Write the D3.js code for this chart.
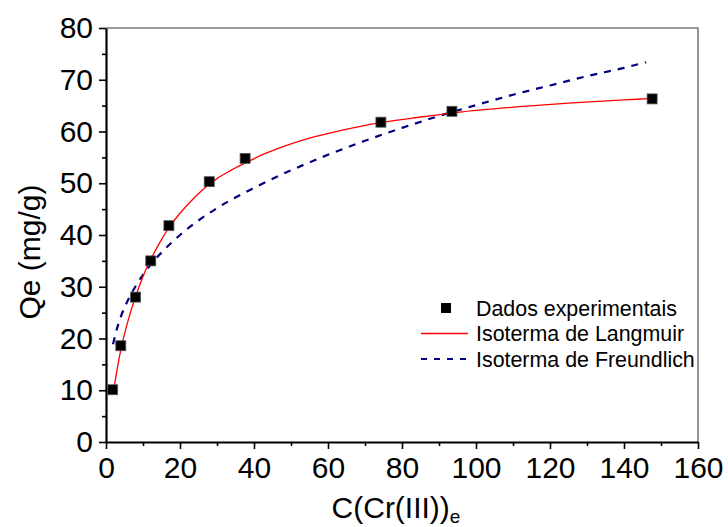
<!DOCTYPE html>
<html>
<head>
<meta charset="utf-8">
<title>Isotermas de adsorção</title>
<script src="https://cdn.jsdelivr.net/npm/d3@7"></script>
<style>
  body { margin: 0; background: #fff; }
  svg { display: block; font-family: Arial, "Liberation Sans", sans-serif; }
</style>
</head>
<body>
<div id="chart"></div>
<script>
// experimental points: C(Cr(III))e and Qe (mg/g)
const expC = [1.8, 4.0, 8.0, 12.1, 17.0, 27.9, 37.6, 74.3, 93.5, 147.6];
const expQ = [10.1, 18.6, 28.0, 35.0, 41.8, 50.3, 54.8, 61.8, 63.9, 66.3];

// Langmuir fit curve, sampled
const langC = [2, 3, 4, 6, 8, 10, 12.1, 15, 17, 20, 24, 27.9, 30, 33.5, 37.6, 41, 45, 50, 55, 63, 75, 85, 95, 110, 125, 140, 147.6];
const langQ = [9.7, 14.0, 17.8, 23.5, 28.1, 32.0, 35.3, 39.1, 41.4, 44.2, 47.3, 49.8, 50.9, 52.4, 53.9, 55.1, 56.3, 57.6, 58.7, 60.1, 61.8, 62.8, 63.7, 64.7, 65.5, 66.1, 66.4];

// Freundlich fit curve, sampled
const freuC = [1.9, 2, 3, 4, 6, 8, 10, 12, 15, 20, 25, 30, 40, 50, 60, 70, 80, 90, 100, 110, 120, 130, 140, 146];
const freuQ = [18.9, 19.2, 22.0, 24.2, 27.5, 30.1, 32.3, 34.2, 36.6, 40.0, 42.8, 45.2, 49.1, 52.5, 55.5, 58.2, 60.7, 63.0, 65.1, 67.1, 68.9, 70.7, 72.3, 73.4];

const xTicks = [0, 20, 40, 60, 80, 100, 120, 140, 160];
const yTicks = [0, 10, 20, 30, 40, 50, 60, 70, 80];
const legendLabels = ["Dados experimentais", "Isoterma de Langmuir", "Isoterma de Freundlich"];

const width = 728, height = 527;
const plot = { left: 106, right: 698, top: 28, bottom: 442 };

const svg = d3.select("#chart").append("svg")
  .attr("width", width)
  .attr("height", height);

const x = d3.scaleLinear().domain([0, 160]).range([plot.left, plot.right]);
const y = d3.scaleLinear().domain([0, 80]).range([plot.bottom, plot.top]);

// top and right frame
svg.append("path")
  .attr("d", `M${plot.left},${plot.top}H${plot.right}V${plot.bottom}`)
  .attr("fill", "none")
  .attr("stroke", "#7a7a7a")
  .attr("stroke-width", 1.6);

// minor ticks
const xMinor = d3.axisBottom(x).tickValues(d3.range(10, 160, 20)).tickSize(4).tickFormat("");
const yMinor = d3.axisLeft(y).tickValues(d3.range(5, 80, 10)).tickSize(4).tickFormat("");
svg.append("g").attr("transform", `translate(0,${plot.bottom})`).call(xMinor)
  .call(g => g.select(".domain").remove());
svg.append("g").attr("transform", `translate(${plot.left},0)`).call(yMinor)
  .call(g => g.select(".domain").remove());

// major axes
const xAxis = d3.axisBottom(x).tickValues(xTicks).tickSize(7).tickSizeOuter(0).tickPadding(8);
const yAxis = d3.axisLeft(y).tickValues(yTicks).tickSize(7).tickSizeOuter(0).tickPadding(6);

svg.append("g").attr("class", "x axis").attr("transform", `translate(0,${plot.bottom})`).call(xAxis);
svg.append("g").attr("class", "y axis").attr("transform", `translate(${plot.left},0)`).call(yAxis);

svg.selectAll(".axis .domain").attr("stroke", "#000").attr("stroke-width", 2.2);
svg.selectAll(".tick line").attr("stroke", "#000").attr("stroke-width", 1.6);
svg.selectAll(".axis text")
  .attr("font-size", 30)
  .attr("font-family", "Arial, 'Liberation Sans', sans-serif")
  .attr("fill", "#000");
svg.selectAll(".x.axis text").attr("dy", "0.71em");

// axis titles
const xTitle = svg.append("text")
  .attr("x", 396).attr("y", 518)
  .attr("text-anchor", "middle")
  .attr("font-size", 30)
  .text("C(Cr(III))");
xTitle.append("tspan").attr("dy", 5).attr("font-size", 19).text("e");

svg.append("text")
  .attr("transform", "translate(40,252) rotate(-90)")
  .attr("text-anchor", "middle")
  .attr("font-size", 30)
  .text("Qe (mg/g)");

// curves
const line = d3.line().x(d => x(d[0])).y(d => y(d[1])).curve(d3.curveMonotoneX);

svg.append("path")
  .datum(d3.zip(freuC, freuQ))
  .attr("fill", "none")
  .attr("stroke", "#00007f")
  .attr("stroke-width", 2.2)
  .attr("stroke-dasharray", "7,7")
  .attr("d", line);

svg.append("path")
  .datum(d3.zip(langC, langQ))
  .attr("fill", "none")
  .attr("stroke", "#ff0000")
  .attr("stroke-width", 1.3)
  .attr("d", line);

// experimental squares
const sq = 10;
svg.append("g").selectAll("rect")
  .data(d3.zip(expC, expQ))
  .join("rect")
  .attr("x", d => x(d[0]) - sq / 2)
  .attr("y", d => y(d[1]) - sq / 2)
  .attr("width", sq)
  .attr("height", sq)
  .attr("fill", "#000")
  .attr("stroke", "#555")
  .attr("stroke-width", 0.8);

// legend
const legend = svg.append("g").attr("transform", "translate(421,308)");
const rowH = 25.5;

legend.append("rect")
  .attr("x", 20).attr("y", -5).attr("width", 10).attr("height", 10)
  .attr("fill", "#000");
legend.append("line")
  .attr("x1", 0).attr("x2", 47).attr("y1", rowH).attr("y2", rowH)
  .attr("stroke", "#ff0000").attr("stroke-width", 1.3);
legend.append("line")
  .attr("x1", 0).attr("x2", 47).attr("y1", rowH * 2).attr("y2", rowH * 2)
  .attr("stroke", "#00007f").attr("stroke-width", 2.2)
  .attr("stroke-dasharray", "6,7");

legend.selectAll("text.lbl")
  .data(legendLabels)
  .join("text")
  .attr("class", "lbl")
  .attr("x", 55)
  .attr("y", (d, i) => i * rowH)
  .attr("dy", "0.36em")
  .attr("font-size", 21.4)
  .attr("fill", "#000")
  .text(d => d);
</script>
</body>
</html>
